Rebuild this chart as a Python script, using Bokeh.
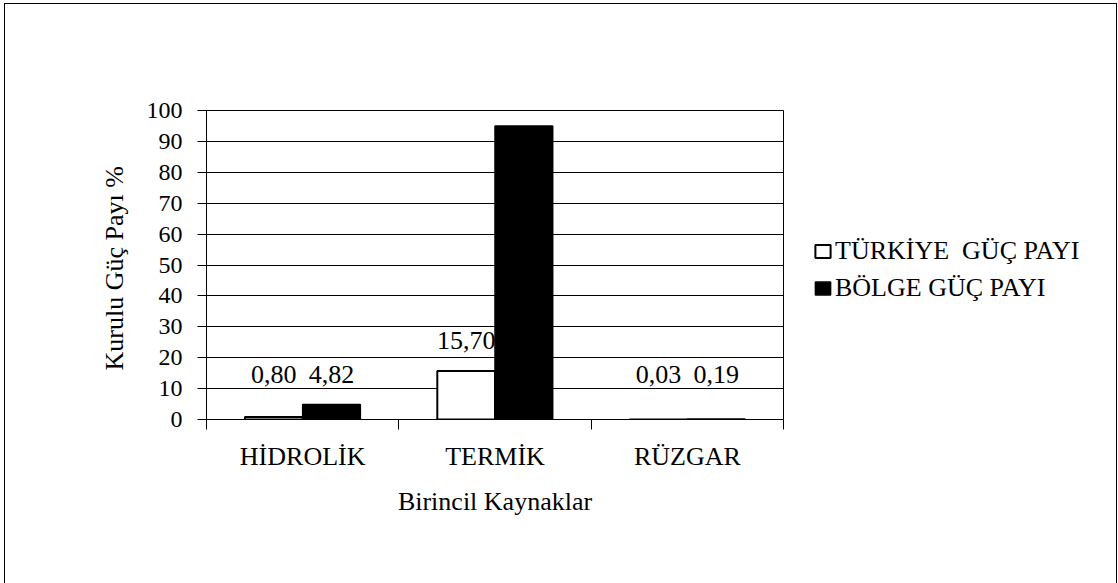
from bokeh.plotting import figure
from bokeh.models import (FactorRange, Range1d, LinearAxis, CategoricalAxis, FixedTicker,
                          ColumnDataSource, Legend, LegendItem, CustomJSTickFormatter, Row)
from bokeh.transform import dodge
from bokeh.core.properties import value
from bokeh.embed import file_html
from bokeh.resources import INLINE

# ---- data ----
categories = ["HİDROLİK", "TERMİK", "RÜZGAR"]
turkiye = [0.80, 15.70, 0.03]
bolge = [4.82, 94.99, 0.19]
series_names = ["TÜRKİYE  GÜÇ PAYI", "BÖLGE GÜÇ PAYI"]
y_ticks = [0, 10, 20, 30, 40, 50, 60, 70, 80, 90, 100]
x_title = "Birincil Kaynaklar"
y_title = "Kurulu Güç Payı  %"

FONT = "Liberation Serif"
WHITE_STYLE = dict(fill_color="white", line_color="black", line_width=2)
BLACK_STYLE = dict(fill_color="black", line_color="black", line_width=1.5)


def fmt(v):
    return f"{v:.2f}".replace(".", ",")


src = ColumnDataSource(dict(
    cat=categories,
    tr=turkiye,
    bg=bolge,
    tr_lbl=[fmt(v) for v in turkiye],
    bg_lbl=[fmt(v) for v in bolge],
    tr_ly=[max(v, 5) for v in turkiye],
    bg_ly=[max(v, 5) for v in bolge],
))

# ---- main chart ----
p = figure(x_range=FactorRange(*categories), y_range=Range1d(0, 100),
           width=788, height=579, output_backend="svg", toolbar_location=None,
           x_axis_location=None, y_axis_location="left",
           min_border_left=201, min_border_right=10, min_border_top=106, min_border_bottom=164)

p.outline_line_color = "black"
p.outline_line_width = 1
p.background_fill_color = "white"
p.border_fill_color = "white"

p.vbar(x=dodge("cat", -0.15, range=p.x_range), top="tr", width=0.3, source=src, **WHITE_STYLE)
p.vbar(x=dodge("cat", 0.15, range=p.x_range), top="bg", width=0.3, source=src, **BLACK_STYLE)

for xo, col, lbl in [(-0.15, "tr_ly", "tr_lbl"), (0.15, "bg_ly", "bg_lbl")]:
    p.text(x=dodge("cat", xo, range=p.x_range), y=col, text=lbl, source=src,
           text_align="center", text_baseline="alphabetic", y_offset=-30,
           text_font=value(FONT), text_font_size="26px", text_color="black")

# y axis
ya = p.yaxis[0]
ya.ticker = FixedTicker(ticks=y_ticks)
ya.major_tick_out = 9
ya.major_tick_in = 0
ya.minor_tick_out = 0
ya.minor_tick_in = 0
ya.axis_line_color = "black"
ya.major_tick_line_color = "black"
ya.major_label_text_font = FONT
ya.major_label_text_font_size = "24px"
ya.major_label_text_color = "black"
ya.major_label_standoff = 15
ya.axis_label = y_title
ya.axis_label_text_font = FONT
ya.axis_label_text_font_size = "26px"
ya.axis_label_text_font_style = "normal"
ya.axis_label_text_color = "black"
ya.axis_label_standoff = 15

p.ygrid.ticker = FixedTicker(ticks=y_ticks)
p.ygrid.grid_line_color = "black"
p.ygrid.grid_line_width = 1
p.xgrid.visible = False

# x axis: ticks at category boundaries (synthetic coordinates) + category labels
edge_axis = LinearAxis(ticker=FixedTicker(ticks=list(range(len(categories) + 1))),
                       formatter=CustomJSTickFormatter(code="return ''"),
                       major_tick_out=10, major_tick_in=0, minor_tick_out=0, minor_tick_in=0,
                       major_label_text_font_size="0px", major_label_standoff=0,
                       axis_line_color="black", major_tick_line_color="black")
p.add_layout(edge_axis, "below")

cat_axis = CategoricalAxis(major_tick_out=0, major_tick_in=0, axis_line_color=None,
                           major_label_text_font=FONT, major_label_text_font_size="26px",
                           major_label_text_color="black", major_label_standoff=12,
                           axis_label=x_title, axis_label_text_font=FONT,
                           axis_label_text_font_size="26px", axis_label_text_font_style="normal",
                           axis_label_text_color="black", axis_label_standoff=13)
p.add_layout(cat_axis, "below")

# ---- legend panel (separate figure at the right; its frame is aligned with the chart's) ----
p2 = figure(width=323, height=579, output_backend="svg", toolbar_location=None,
            x_range=Range1d(0, 1), y_range=Range1d(0, 1),
            x_axis_location=None, y_axis_location=None, min_border=0)
p2.outline_line_color = None
p2.grid.visible = False
p2.background_fill_color = "white"
p2.border_fill_color = "white"
idx = list(range(len(categories)))
lr1 = p2.vbar(x=idx, top=turkiye, width=0.3, visible=False, **WHITE_STYLE)
lr2 = p2.vbar(x=idx, top=bolge, width=0.3, visible=False, **BLACK_STYLE)

legend = Legend(items=[LegendItem(label=series_names[0], renderers=[lr1]),
                       LegendItem(label=series_names[1], renderers=[lr2])],
                location=(20, 116), orientation="vertical", click_policy="none",
                inactive_fill_alpha=0,
                glyph_width=19, glyph_height=16, label_standoff=3,
                label_height=26, spacing=7, padding=0, margin=0,
                border_line_color=None, background_fill_alpha=0,
                label_text_font=FONT, label_text_font_size="26px", label_text_color="black")
p2.add_layout(legend, "center")

layout = Row(children=[p, p2], spacing=0,
             styles={"margin": "3px 0px 0px 4px",
                     "border-left": "1px solid black", "border-top": "1px solid black",
                     "border-right": "1px solid black"})

open("out.html", "w").write(file_html(layout, INLINE))
